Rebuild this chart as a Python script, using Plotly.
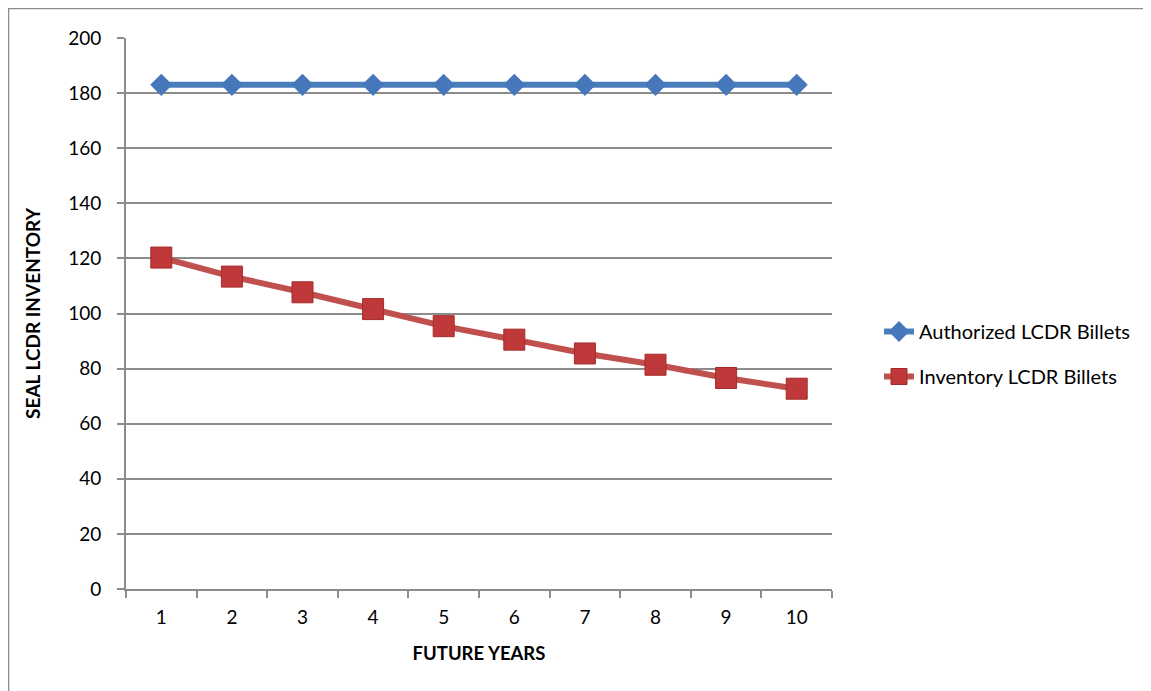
import plotly.graph_objects as go

years = ["1", "2", "3", "4", "5", "6", "7", "8", "9", "10"]
authorized = [183, 183, 183, 183, 183, 183, 183, 183, 183, 183]
inventory = [120.3, 113.4, 107.7, 101.6, 95.4, 90.5, 85.5, 81.4, 76.6, 72.7]
y_ticks = [0, 20, 40, 60, 80, 100, 120, 140, 160, 180, 200]

OFF = 8  # page body margin
W, H = 1151 - OFF, 691 - OFF
L, R, T, B = 126 - OFF, 832 - OFF, 38 - OFF, 589 - OFF

fig = go.Figure()
fig.add_trace(go.Scatter(
    x=years, y=authorized, name="Authorized LCDR Billets", mode="lines+markers",
    line=dict(color="#4a7ebb", width=6),
    marker=dict(symbol="diamond", size=17, color="#4677ba"),
    legendgroup="a",
))
fig.add_trace(go.Scatter(
    x=years, y=inventory, name="Inventory LCDR Billets", mode="lines+markers",
    line=dict(color="#c0504d", width=6),
    marker=dict(symbol="square", size=21, color="#c0393a",
                line=dict(color="#a52a2a", width=1)),
    legendgroup="b",
))

gray = "#8c8c8c"
fig.update_layout(
    width=W, height=H,
    margin=dict(l=L, r=W - R, t=T, b=H - B, autoexpand=False),
    paper_bgcolor="white", plot_bgcolor="white",
    font=dict(family="Lato, Open Sans, sans-serif", size=19, color="#000000"),
    showlegend=True,
    legend=dict(x=(879 - OFF - L) / (R - L), xanchor="left",
                y=(B - (354 - OFF)) / (B - T), yanchor="middle",
                font=dict(size=20), tracegroupgap=16, bgcolor="rgba(0,0,0,0)",
                traceorder="grouped"),
    xaxis=dict(
        type="category", tickson="boundaries", ticks="outside", ticklen=7,
        range=[-0.5, len(years) - 0.5],
        tickcolor=gray, tickwidth=2, showline=True, linecolor=gray, linewidth=2,
        showgrid=False, zeroline=False, ticklabelstandoff=10,
        title=dict(text="<b>FUTURE YEARS</b>", font=dict(size=18.5), standoff=20),
        tickfont=dict(size=19),
    ),
    yaxis=dict(
        range=[0, 200], tickvals=y_ticks, ticks="outside", ticklen=7,
        tickcolor=gray, tickwidth=2, showline=True, linecolor=gray, linewidth=2,
        showgrid=True, gridcolor=gray, gridwidth=1.5, zeroline=False,
        ticklabelstandoff=12,
        title=dict(text="<b>SEAL LCDR INVENTORY</b>", font=dict(size=19), standoff=22),
        tickfont=dict(size=19),
    ),
)

# outer chart frame (left and top edges)
px = lambda v: (v - OFF - L) / (R - L)
py = lambda v: (B - (v - OFF)) / (B - T)
fig.add_shape(type="line", xref="paper", yref="paper",
              x0=px(8), x1=px(8), y0=py(700), y1=py(8),
              line=dict(color=gray, width=2.5))
fig.add_shape(type="line", xref="paper", yref="paper",
              x0=px(8), x1=px(1160), y0=py(8), y1=py(8),
              line=dict(color=gray, width=2.5))

fig.write_html("out.html")
